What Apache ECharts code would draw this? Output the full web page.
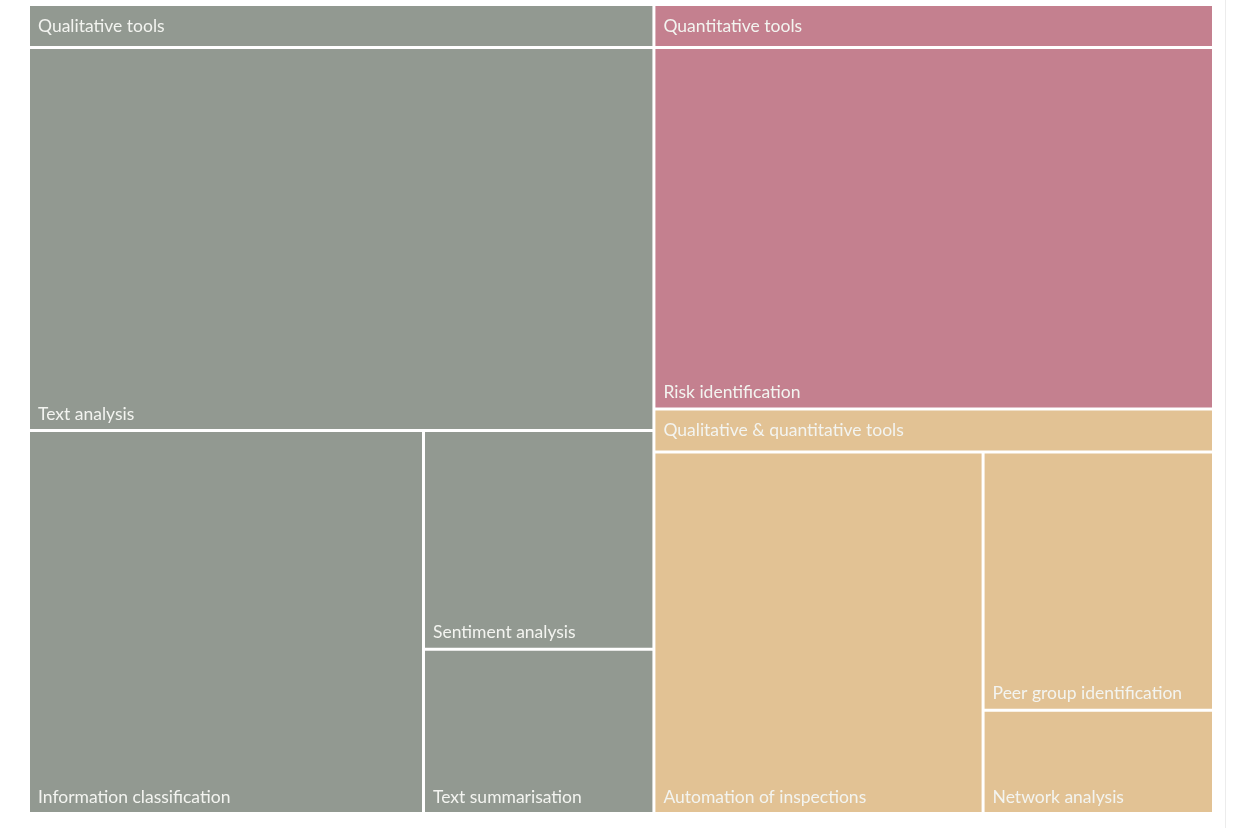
<!DOCTYPE html>
<html>
<head>
<meta charset="utf-8">
<script src="https://cdn.jsdelivr.net/npm/echarts@6/dist/echarts.min.js"></script>
<style>
html,body{margin:0;padding:0;background:#fff;}
#chart{width:1233px;height:828px;}
</style>
</head>
<body>
<div id="chart"></div>
<script>
// ---- data ----
// (Quantitative tools listed last: on equal values ECharts places the later item first)
const groupNames = ['Qualitative tools', 'Qualitative & quantitative tools', 'Quantitative tools'];
const qualitativeNames = ['Text analysis', 'Information classification', 'Sentiment analysis', 'Text summarisation'];
const qualitativeValues = [19, 12, 4, 3];
const mixedNames = ['Automation of inspections', 'Peer group identification', 'Network analysis'];
const mixedValues = [10, 5, 2];
const quantitativeNames = ['Risk identification'];
const quantitativeValues = [17];

// ---- styles ----
const groupColors = ['#929991', '#e2c294', '#c4808f'];
const textColor = '#f3f4f0';
const fontFamily = 'Lato, "Open Sans", sans-serif';
const fontSize = 17.5;

const groupLeaves = [
  [qualitativeNames, qualitativeValues],
  [mixedNames, mixedValues],
  [quantitativeNames, quantitativeValues]
];

const data = groupNames.map((g, gi) => {
  const [names, values] = groupLeaves[gi];
  const color = groupColors[gi];
  return {
    name: g,
    itemStyle: { color: color, borderColor: '#fff' },
    upperLabel: {
      show: true,
      height: 43,
      padding: 0,
      formatter: p => '{h|' + p.name + '}',
      rich: {
        h: {
          width: '100%',
          height: 40,
          lineHeight: 40,
          padding: [0, 0, 0, 8],
          backgroundColor: color,
          color: textColor,
          fontSize: fontSize,
          fontFamily: fontFamily
        }
      }
    },
    children: names.map((n, i) => ({
      name: n,
      value: values[i],
      itemStyle: { color: color }
    }))
  };
});

const chart = echarts.init(document.getElementById('chart'), null, { renderer: 'canvas' });
chart.setOption({
  animation: false,
  series: [{
    type: 'treemap',
    left: 30, top: 6, width: 1182, height: 806,
    roam: false,
    nodeClick: false,
    breadcrumb: { show: false },
    squareRatio: 1,
    levels: [
      { itemStyle: { gapWidth: 3, borderWidth: 0, borderColor: '#fff' } },
      { itemStyle: { gapWidth: 3, borderWidth: 0, borderColor: '#fff' } },
      {
        itemStyle: { gapWidth: 0, borderWidth: 0 },
        label: {
          show: true,
          position: 'insideBottomLeft',
          distance: 0,
          padding: [0, 0, 6, 8],
          color: textColor,
          fontSize: fontSize,
          fontFamily: fontFamily
        }
      }
    ],
    data: data
  }],
  graphic: [{
    type: 'line',
    shape: { x1: 1225.5, y1: 0, x2: 1225.5, y2: 828 },
    style: { stroke: '#ececec', lineWidth: 1 },
    silent: true
  }]
});
</script>
</body>
</html>
